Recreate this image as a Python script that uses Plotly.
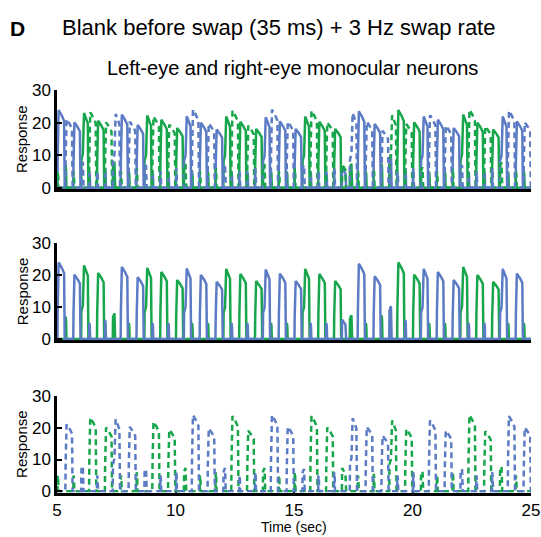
import plotly.graph_objects as go

FONT = "Liberation Sans, Arial, Helvetica, sans-serif"
BLUE = "#5b7bc4"
GREEN = "#17a64b"

# Time base: stimuli swap eyes at 3 Hz, with a 35 ms blank before each swap
T_START = 5.0
T_END = 25.0
SWAP_PERIOD = 1.0 / 3.0
TIME_TICKS = [5, 10, 15, 20, 25]
RESPONSE_TICKS = [0, 10, 20, 30]

# Peak response in each swap interval (interval k starts at T_START + k/3 s).
# Even intervals: left eye sees the blue image, right eye the green image;
# odd intervals: the other way round.
blue_peak = [23.9, 21.1, 20.1, 8.0, 5.0, 5.0, 6.0, 22.7, 22.5, 20.3,
             19.3, 7.0, 5.0, 5.0, 5.0, 6.0, 22.0, 24.0, 20.0, 19.8,
             17.9, 7.3, 5.0, 5.0, 5.0, 6.0, 21.7, 24.0, 20.4, 20.3,
             18.1, 7.0, 5.0, 5.0, 5.0, 6.0, 6.0, 23.0, 23.5, 20.3,
             19.6, 17.5, 10.3, 5.0, 6.0, 6.0, 21.9, 22.3, 20.9, 19.1,
             18.4, 7.0, 5.0, 5.0, 5.0, 6.0, 21.9, 23.7, 20.4, 20.1]
green_peak = [5.0, 7.0, 5.0, 23.0, 23.2, 20.6, 20.1, 8.0, 5.0, 5.0,
              6.0, 22.2, 21.9, 20.9, 19.4, 18.4, 7.3, 5.0, 5.0, 5.0,
              6.0, 21.9, 23.7, 20.3, 19.1, 18.1, 7.3, 5.0, 5.0, 5.0,
              6.0, 21.9, 23.7, 20.3, 20.1, 18.1, 7.3, 7.4, 5.0, 5.0,
              5.5, 7.4, 22.3, 23.9, 19.6, 20.1, 6.3, 5.0, 5.0, 5.0,
              6.0, 22.5, 24.0, 20.0, 18.9, 17.9, 7.8, 5.0, 5.0, 5.0]

# Response profiles within one swap interval: (time offset in s, fraction of peak)
WIN_PROFILE = [(0.02, 0.0), (0.03, 0.4), (0.07, 1.0), (0.20, 0.93), (0.30, 0.86),
               (0.325, 0.0)]
SWITCH_WIN_PROFILE = [(0.02, 0.0), (0.03, 0.38), (0.09, 0.45), (0.14, 1.0), (0.22, 0.94),
                      (0.30, 0.86), (0.325, 0.0)]
LOSE_PROFILE = [(0.02, 0.0), (0.03, 1.0), (0.05, 0.8), (0.065, 0.0)]
SWITCH_LOSE_PROFILE = [(0.02, 0.0), (0.03, 0.85), (0.09, 1.0), (0.12, 0.0)]
TIE_PROFILE = [(0.02, 0.0), (0.03, 1.0), (0.17, 0.75), (0.20, 0.0)]

DOMINANCE_LEVEL = 12.0


def dominant_image(k):
    b, g = blue_peak[k], green_peak[k]
    if max(b, g) < DOMINANCE_LEVEL:
        return None
    return "blue" if b > g else "green"


winners = [dominant_image(k) for k in range(len(blue_peak))]


def neuron_response(image, parity):
    """Time course of one monocular neuron; it gets input in slots of given parity."""
    peaks = blue_peak if image == "blue" else green_peak
    xs, ys = [T_START], [0.0]
    for k in range(len(peaks)):
        if k % 2 != parity:
            continue
        switched = k > 0 and winners[k] != winners[k - 1]
        if winners[k] is None:
            profile = TIE_PROFILE
        elif winners[k] == image:
            profile = SWITCH_WIN_PROFILE if switched else WIN_PROFILE
        else:
            profile = SWITCH_LOSE_PROFILE if switched else LOSE_PROFILE
        start = T_START + k * SWAP_PERIOD
        for dt, frac in profile:
            xs.append(start + dt)
            ys.append(peaks[k] * frac)
    xs.append(T_END + 0.5)
    ys.append(0.0)
    return xs, ys


# Left eye sees blue in even slots and green in odd slots; right eye the reverse
left_blue = neuron_response("blue", 0)
left_green = neuron_response("green", 1)
right_blue = neuron_response("blue", 1)
right_green = neuron_response("green", 0)

SOLID = dict(width=2.5)
DASHED = dict(width=2.5, dash="6px,4px")

fig = go.Figure()


def add(resp, color, style, axis_idx):
    suffix = "" if axis_idx == 1 else str(axis_idx)
    fig.add_trace(go.Scatter(
        x=resp[0], y=resp[1], mode="lines",
        line=dict(color=color, **style),
        xaxis="x" + suffix, yaxis="y" + suffix,
        hoverinfo="skip", showlegend=False,
    ))


# Panel 1: all four neurons
add(left_green, GREEN, SOLID, 1)
add(left_blue, BLUE, SOLID, 1)
add(right_green, GREEN, DASHED, 1)
add(right_blue, BLUE, DASHED, 1)
# Panel 2: left-eye neurons
add(left_green, GREEN, SOLID, 2)
add(left_blue, BLUE, SOLID, 2)
# Panel 3: right-eye neurons
add(right_green, GREEN, DASHED, 3)
add(right_blue, BLUE, DASHED, 3)

W, H = 541, 537
ML, MR = 57, 10
plot_w = W - ML - MR

tick_font = dict(family=FONT, size=17, color="black")


def xaxis(show_labels, anchor):
    return dict(range=[T_START, T_END], tickvals=TIME_TICKS, showticklabels=show_labels,
                showline=True, linecolor="black", linewidth=2.5, layer="below traces",
                ticks="inside", ticklen=3, tickwidth=2, tickcolor="black",
                showgrid=False, zeroline=False, tickfont=tick_font, anchor=anchor)


def yaxis(domain, anchor):
    return dict(range=[-0.4, 30], tickvals=RESPONSE_TICKS, domain=domain,
                showline=True, linecolor="black", linewidth=2.5,
                ticks="inside", ticklen=5, tickwidth=2, tickcolor="black",
                showgrid=False, zeroline=False, tickfont=tick_font, anchor=anchor)


def frac_y(px):
    return (H - px) / H


def frac_x(px):
    return (px - ML) / plot_w


fig.update_layout(
    width=W, height=H,
    margin=dict(l=ML, r=MR, t=0, b=0),
    paper_bgcolor="white", plot_bgcolor="white",
    font=dict(family=FONT, color="black"),
    xaxis=xaxis(False, "y"), xaxis2=xaxis(False, "y2"), xaxis3=xaxis(True, "y3"),
    yaxis=yaxis([frac_y(186.3), frac_y(84)], "x"),
    yaxis2=yaxis([frac_y(342.8), frac_y(242)], "x2"),
    yaxis3=yaxis([frac_y(500.3), frac_y(400.5)], "x3"),
)

annotations = [
    dict(text="<b>D</b>", x=frac_x(8), y=frac_y(20), xanchor="left", yanchor="middle",
         font=dict(size=21)),
    dict(text="Blank before swap (35 ms) + 3 Hz swap rate", x=frac_x(60), y=frac_y(19),
         xanchor="left", yanchor="middle", font=dict(size=22)),
    dict(text="Left-eye and right-eye monocular neurons", x=frac_x(292), y=frac_y(61),
         xanchor="center", yanchor="middle", font=dict(size=20)),
    dict(text="Time (sec)", x=frac_x(294), y=frac_y(527), xanchor="center", yanchor="middle",
         yshift=-9, font=dict(size=14)),
]
for center in (134.5, 292, 450):
    annotations.append(dict(text="Response", x=frac_x(22), y=frac_y(center), textangle=-90,
                            xanchor="center", yanchor="middle", font=dict(size=15)))
for a in annotations:
    a.update(xref="paper", yref="paper", showarrow=False)
fig.update_layout(annotations=annotations)

fig.write_html("out.html")
